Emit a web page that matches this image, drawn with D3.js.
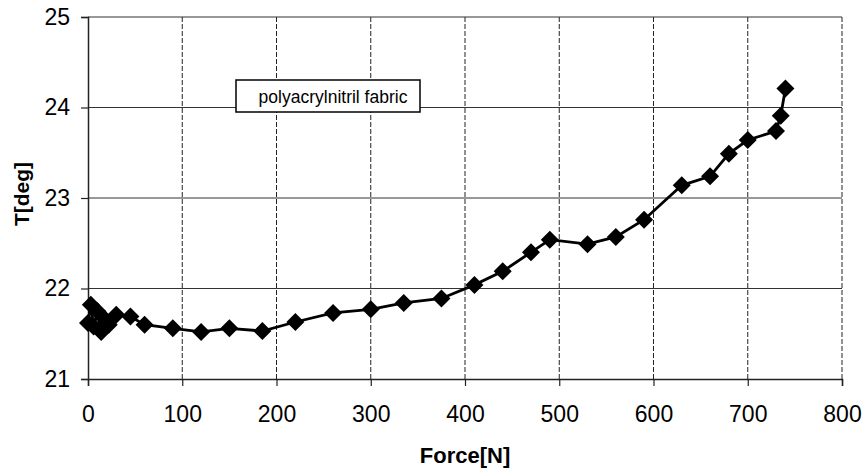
<!DOCTYPE html>
<html lang="en">
<head>
    <meta charset="UTF-8">
    <title>Force vs T</title>
    <script src="https://d3js.org/d3.v7.min.js" charset="utf-8"></script>
    <style>
        body { margin: 0; background: #fff; font-family: 'Liberation Sans', Arial, sans-serif; }
        text { fill: #000; }
    </style>
</head>
<body>
    <div id="chart"></div>
    <script>
        // values
        const force = [0, 3, 6, 10, 14, 18, 22, 30, 45, 60, 90, 120, 150, 185, 220, 260, 300, 335, 375,
                       410, 440, 470, 490, 530, 560, 590, 630, 660, 680, 700, 730, 735, 740];
        const temp = [21.62, 21.82, 21.58, 21.75, 21.52, 21.66, 21.6, 21.71, 21.69, 21.6, 21.56, 21.52, 21.56,
                      21.53, 21.63, 21.73, 21.77, 21.84, 21.89, 22.04, 22.19, 22.40, 22.54, 22.49, 22.57,
                      22.76, 23.14, 23.24, 23.49, 23.64, 23.74, 23.91, 24.21];
        const xTicks = [0, 100, 200, 300, 400, 500, 600, 700, 800];
        const yTicks = [21, 22, 23, 24, 25];
        const seriesLabel = "polyacrylnitril fabric";

        const width = 865, height = 474;
        const svg = d3.select('#chart').append('svg')
            .attr('width', width).attr('height', height);

        const x = d3.scaleLinear().domain([0, 800]).range([88, 842]);
        const y = d3.scaleLinear().domain([21, 25]).range([379, 17]);

        // grid
        svg.append('g').selectAll('line')
            .data(xTicks.slice(1))
            .enter().append('line')
            .attr('x1', d => x(d)).attr('x2', d => x(d))
            .attr('y1', y(25)).attr('y2', y(21))
            .attr('stroke', '#222').attr('stroke-width', 1)
            .attr('stroke-dasharray', '5,2');
        svg.append('g').selectAll('line')
            .data(yTicks.slice(1))
            .enter().append('line')
            .attr('x1', x(0)).attr('x2', x(800))
            .attr('y1', d => y(d)).attr('y2', d => y(d))
            .attr('stroke', '#333').attr('stroke-width', 1.2);

        // axes
        const xAxis = svg.append('g')
            .attr('transform', `translate(0,${y(21)})`)
            .call(d3.axisBottom(x).tickValues(xTicks).tickFormat(d3.format('d')).tickSize(7).tickPadding(20));
        const yAxis = svg.append('g')
            .attr('transform', `translate(${x(0)},0)`)
            .call(d3.axisLeft(y).tickValues(yTicks).tickFormat(d3.format('d')).tickSize(7).tickPadding(11));
        [xAxis, yAxis].forEach(a => {
            a.select('.domain').attr('stroke', '#222').attr('stroke-width', 1.5);
            a.selectAll('.tick line').attr('stroke', '#222').attr('stroke-width', 1.2);
            a.selectAll('.tick text')
                .attr('font-family', "'Liberation Sans', Arial, sans-serif")
                .attr('font-size', 23).attr('fill', '#000');
        });

        // axis titles
        svg.append('text')
            .attr('x', 465).attr('y', 463)
            .attr('text-anchor', 'middle')
            .attr('font-size', 22).attr('font-weight', 'bold')
            .text('Force[N]');
        svg.append('text')
            .attr('transform', 'translate(29,194) rotate(-90)')
            .attr('text-anchor', 'middle')
            .attr('font-size', 21).attr('font-weight', 'bold')
            .text('T[deg]');

        // series
        const pts = force.map((f, i) => [f, temp[i]]);
        svg.append('path')
            .datum(pts)
            .attr('fill', 'none').attr('stroke', '#000').attr('stroke-width', 2.8)
            .attr('d', d3.line().x(d => x(d[0])).y(d => y(d[1])));
        svg.append('g').selectAll('path')
            .data(pts)
            .enter().append('path')
            .attr('transform', d => `translate(${x(d[0])},${y(d[1])})`)
            .attr('d', 'M0,-9L9,0L0,9L-9,0Z')
            .attr('fill', '#000');

        // label box
        const lab = svg.append('g');
        lab.append('rect')
            .attr('x', 236).attr('y', 80).attr('width', 184).attr('height', 32)
            .attr('fill', '#fff').attr('stroke', '#000').attr('stroke-width', 1.5);
        lab.append('text')
            .attr('x', 333).attr('y', 103)
            .attr('text-anchor', 'middle')
            .attr('font-size', 17.5)
            .text(seriesLabel);
    </script>
</body>
</html>
